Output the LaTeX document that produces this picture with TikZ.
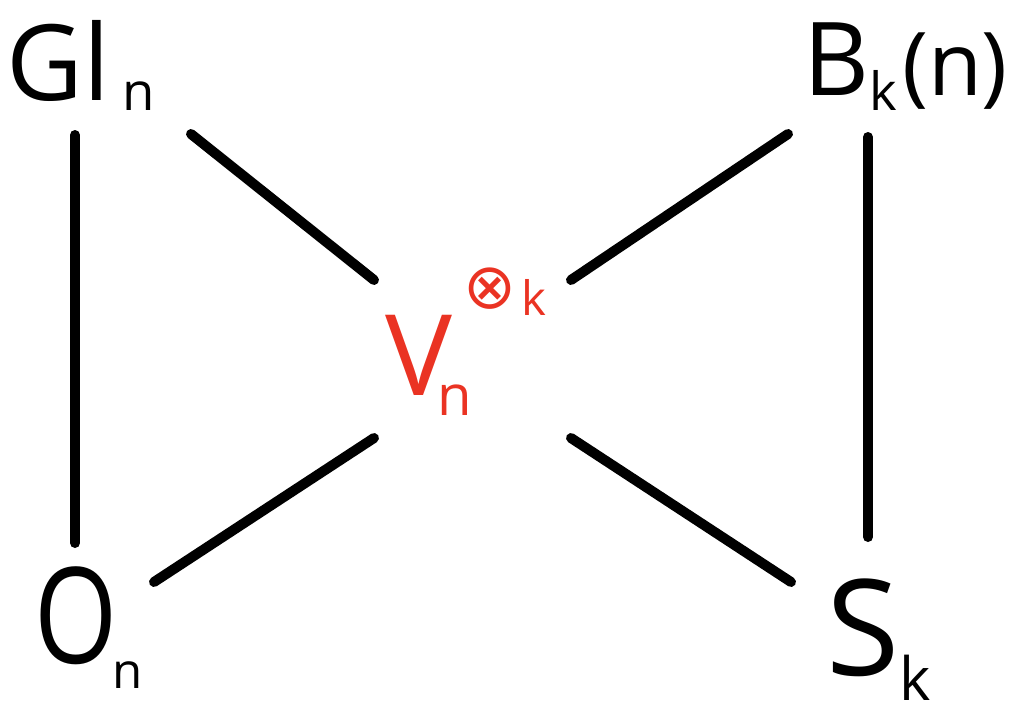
\documentclass[tikz,border=0pt]{standalone}
\usepackage{fontspec}
\setmainfont{Open Sans}
\newfontfamily\symfont{DejaVu Sans}
\usetikzlibrary{positioning}
\definecolor{vred}{RGB}{234,51,35}
\newcommand{\lowidx}[3]{\raisebox{-#1}{\fontsize{#2}{#2}\selectfont #3}}
\tikzset{
  grp/.style  ={inner sep=0pt, anchor=base west, text=black},
  rep/.style  ={inner sep=0pt, anchor=base west, text=vred},
  edge/.style ={line width=0.2cm, line cap=round, black},
}
\begin{document}
\begin{tikzpicture}[x=0.02cm, y=-0.02cm]
\useasboundingbox (0,0) rectangle (1019,711);
\node[grp, font=\fontsize{60}{66}\selectfont] (gl) at (6,100)
  {Gl\kern0.25cm\lowidx{0.2cm}{30}{n}};
\node[grp, font=\fontsize{58}{64}\selectfont] (bk) at (803,95)
  {B\lowidx{0.3cm}{30}{k}\kern0.1cm{\fontsize{50}{56}\selectfont(n)}};
\node[grp, font=\fontsize{76}{82}\selectfont] (on) at (34,663)
  {\scalebox{0.8}[1]{O}\kern-0.1cm\lowidx{0.5cm}{28}{n}};
\node[grp, font=\fontsize{76}{82}\selectfont] (sk) at (826,675)
  {S\lowidx{0.5cm}{34}{k}};
\node[rep, font=\fontsize{64}{70}\selectfont] (v) at (385,395)
  {V\makebox[0pt][l]{\kern-0.3cm\lowidx{0.4cm}{32}{n}}\kern0.22cm%
   \raisebox{1.73cm}{\fontsize{36}{36}\symfont ⊗}\kern0.1cm%
   \raisebox{1.6cm}{\fontsize{27}{27}\selectfont k}};
\draw[edge] ([shift={(185,34)}]gl.base west) -- ([shift={(-11,-115)}]v.base west);
\draw[edge] ([shift={(-15,39)}]bk.base west) -- ([shift={(186,-115)}]v.base west);
\draw[edge] ([shift={(120,-81)}]on.base west) -- ([shift={(-11,43)}]v.base west);
\draw[edge] ([shift={(-35,-93)}]sk.base west) -- ([shift={(186,43)}]v.base west);
\draw[edge] ([shift={(69,35)}]gl.base west) -- ([shift={(41,-120)}]on.base west);
\draw[edge] ([shift={(65,42)}]bk.base west) -- ([shift={(42,-138)}]sk.base west);
\end{tikzpicture}
\end{document}
